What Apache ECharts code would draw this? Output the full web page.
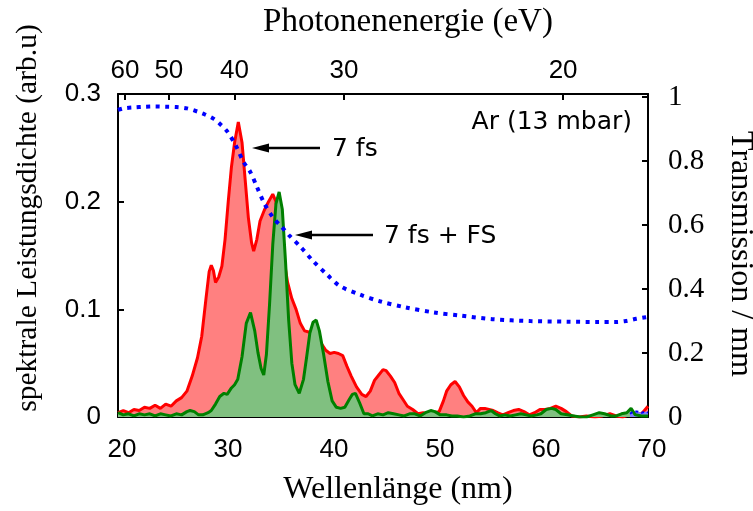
<!DOCTYPE html>
<html><head><meta charset="utf-8">
<script src="https://cdn.jsdelivr.net/npm/echarts@6/dist/echarts.min.js"></script>
<style>html,body{margin:0;padding:0;background:#fff}#c{width:753px;height:511px}</style>
</head><body><div id="c"></div>
<script>
// 7 fs spectrum (red)
const redX=[20.0,20.5,21.0,21.5,22.0,22.5,23.0,23.5,24.0,24.5,25.0,25.5,26.0,26.5,27.0,27.5,27.9,28.3,28.6,28.8,29.0,29.2,29.5,29.8,30.1,30.4,30.7,31.0,31.35,31.7,32.0,32.3,32.6,32.8,33.1,33.4,33.8,34.2,34.6,34.9,35.2,35.6,36.0,36.4,36.8,37.2,37.6,38.0,38.4,38.8,39.2,39.6,40.0,40.4,40.8,41.2,41.6,42.0,42.5,43.0,43.4,43.8,44.2,44.6,45.0,45.3,45.7,46.1,46.5,46.9,47.3,47.8,48.3,48.8,49.3,49.8,50.3,50.7,51.0,51.4,51.8,52.2,52.6,53.0,53.4,53.8,54.2,54.6,55.0,55.4,55.8,56.3,56.8,57.3,57.8,58.3,58.8,59.3,59.8,60.3,60.8,61.3,61.8,62.3,62.8,63.5,64.2,65.0,65.7,66.4,67.0,67.6,68.2,68.8,69.4,70.0];
const redY=[0.004,0.006,0.004,0.007,0.006,0.009,0.008,0.011,0.008,0.012,0.010,0.015,0.018,0.024,0.038,0.055,0.075,0.110,0.135,0.141,0.136,0.125,0.130,0.140,0.165,0.200,0.232,0.255,0.274,0.255,0.220,0.185,0.162,0.154,0.165,0.182,0.192,0.200,0.207,0.200,0.180,0.150,0.125,0.110,0.100,0.087,0.080,0.079,0.075,0.072,0.068,0.062,0.059,0.060,0.059,0.057,0.047,0.038,0.028,0.021,0.019,0.024,0.034,0.039,0.044,0.043,0.038,0.032,0.022,0.016,0.010,0.007,0.003,0.004,0.003,0.004,0.005,0.015,0.024,0.030,0.033,0.028,0.020,0.014,0.010,0.004,0.008,0.008,0.007,0.006,0.004,0.002,0.004,0.006,0.007,0.005,0.002,0.004,0.007,0.007,0.008,0.010,0.008,0.005,0.001,0.000,0.001,0.000,0.001,0.003,0.001,0.000,0.002,0.003,0.003,0.010];
// 7 fs + FS spectrum (green)
const greenX=[20.0,20.5,21.0,21.5,22.0,22.5,23.0,23.5,24.0,24.5,25.0,25.5,26.0,26.5,26.8,27.2,27.6,28.0,28.5,28.8,29.2,29.6,30.0,30.3,30.7,31.0,31.3,31.7,32.1,32.5,32.9,33.2,33.5,33.75,34.0,34.3,34.6,34.9,35.2,35.5,35.8,36.1,36.4,36.7,37.1,37.5,37.8,38.1,38.4,38.7,39.0,39.4,39.8,40.2,40.6,41.0,41.4,41.8,42.1,42.4,42.8,43.2,43.6,44.0,44.5,45.0,45.5,46.0,46.5,47.0,47.5,48.0,48.5,49.0,49.5,49.9,50.4,51.0,51.5,52.0,52.6,53.2,53.7,54.2,54.7,55.2,55.6,56.0,56.5,57.0,57.5,58.0,58.5,59.0,59.5,59.9,60.4,60.9,61.3,61.8,62.4,63.0,63.6,64.2,64.8,65.4,65.9,66.5,67.0,67.5,68.0,68.4,68.8,69.4,70.0];
const greenY=[0.004,0.002,0.003,0.001,0.003,0.002,0.003,0.001,0.003,0.002,0.001,0.003,0.002,0.005,0.006,0.005,0.002,0.002,0.004,0.006,0.012,0.019,0.022,0.021,0.027,0.030,0.035,0.056,0.087,0.097,0.080,0.060,0.045,0.039,0.058,0.105,0.160,0.198,0.209,0.193,0.145,0.090,0.050,0.030,0.022,0.035,0.056,0.078,0.088,0.090,0.080,0.058,0.033,0.015,0.009,0.008,0.009,0.016,0.021,0.022,0.013,0.003,0.003,0.001,0.003,0.002,0.004,0.003,0.002,0.001,0.003,0.003,0.001,0.004,0.006,0.005,0.002,0.002,0.001,0.001,0.000,0.001,0.003,0.003,0.004,0.006,0.003,0.001,0.002,0.001,0.002,0.003,0.002,0.001,0.002,0.003,0.007,0.008,0.007,0.003,0.002,0.001,0.000,0.000,0.002,0.004,0.003,0.001,0.001,0.003,0.004,0.008,0.002,0.001,0.001];
// small blue trace at the far right
const blueX=[68.3,68.6,69.0,69.4,69.8,70.0];
const blueY=[0.003,0.005,0.005,0.004,0.005,0.004];
// Transmission (blue dotted, right axis)
const transX=[20.0,20.5,21.5,22.5,23.5,24.5,25.5,26.5,27.5,28.2,29.0,29.6,30.3,31.1,31.8,32.5,33.1,33.8,34.6,35.4,36.2,37.2,38.4,39.7,40.9,42.8,44.7,47.1,49.8,52.3,55.3,58.9,62.4,65.3,66.9,67.9,68.9,69.8,70.0];
const transY=[0.960,0.965,0.968,0.970,0.971,0.970,0.969,0.965,0.955,0.946,0.933,0.917,0.893,0.850,0.800,0.765,0.720,0.668,0.625,0.596,0.566,0.533,0.488,0.446,0.410,0.383,0.362,0.343,0.327,0.317,0.306,0.300,0.298,0.297,0.297,0.300,0.307,0.312,0.313];
// Axis tick labels
const nmTicks=[20,30,40,50,60,70];
const eVTicks=[60,50,40,30,20];
const leftTicks=[0,0.1,0.2,0.3];
const rightTicks=[0,0.2,0.4,0.6,0.8,1];
const HC=1239.84;

const zip=(a,b)=>a.map((v,i)=>[v,b[i]]);
const SANS='"Liberation Sans", Arial, sans-serif';
const ANN='"DejaVu Sans", sans-serif';
const SERIF='"Liberation Serif", "Times New Roman", serif';
const chart=echarts.init(document.getElementById('c'),null,{renderer:'canvas'});
const eVPos=eVTicks.map(e=>HC/e);
const black={color:'#000',width:2};
chart.setOption({
  animation:false,
  backgroundColor:'#fff',
  grid:{left:118,right:105,top:94,bottom:94,containLabel:false},
  xAxis:[
    {type:'value',position:'bottom',min:nmTicks[0],max:nmTicks[nmTicks.length-1],interval:10,
     axisLine:{show:true,onZero:false,lineStyle:black},
     axisTick:{show:false},
     axisLabel:{fontFamily:SANS,fontSize:26,color:'#000',margin:20,padding:[0,0,0,8]},
     splitLine:{show:false}},
    {type:'value',position:'top',min:20,max:70,
     axisLine:{show:true,onZero:false,lineStyle:black},
     axisTick:{show:true,inside:true,length:6,lineStyle:black,customValues:eVPos},
     axisLabel:{fontFamily:SANS,fontSize:26,color:'#000',margin:10,customValues:eVPos,
       formatter:v=>String(Math.round(HC/v))},
     splitLine:{show:false}}
  ],
  yAxis:[
    {type:'value',position:'left',min:0,max:0.3,
     axisLine:{show:true,onZero:false,lineStyle:black},
     axisTick:{show:true,inside:true,length:6,lineStyle:black,customValues:leftTicks},
     axisLabel:{fontFamily:SANS,fontSize:26,color:'#000',margin:17,customValues:leftTicks,
       formatter:v=>String(+v.toFixed(2))},
     splitLine:{show:false}},
    {type:'value',position:'right',min:0,max:1.01,
     axisLine:{show:true,onZero:false,lineStyle:black},
     axisTick:{show:true,inside:true,length:6,lineStyle:black,customValues:rightTicks},
     axisLabel:{fontFamily:SERIF,fontSize:29,color:'#000',margin:20,customValues:rightTicks,
       formatter:v=>String(+v.toFixed(2))},
     splitLine:{show:false}}
  ],
  series:[
    {name:'7 fs',type:'line',xAxisIndex:0,yAxisIndex:0,data:zip(redX,redY),symbol:'none',
     lineStyle:{color:'#ff0000',width:3},areaStyle:{color:'#ff8080',opacity:1},z:2},
    {name:'7 fs + FS',type:'line',xAxisIndex:0,yAxisIndex:0,data:zip(greenX,greenY),symbol:'none',
     lineStyle:{color:'#008000',width:3},areaStyle:{color:'#80c080',opacity:1},z:3},
    {name:'blue',type:'line',xAxisIndex:0,yAxisIndex:0,data:zip(blueX,blueY),symbol:'none',
     lineStyle:{color:'#0000ff',width:2,type:[3,3]},areaStyle:{color:'#8080ff',opacity:1},z:3},
    {name:'Transmission',type:'line',xAxisIndex:0,yAxisIndex:1,data:zip(transX,transY),symbol:'none',smooth:0.3,
     lineStyle:{color:'#0000ff',width:4,type:[4,5.5],cap:'butt'},z:4}
  ],
  graphic:[
    {type:'text',x:408,y:22,style:{text:'Photonenenergie (eV)',font:'33px '+SERIF,fill:'#000',textAlign:'center',textVerticalAlign:'middle'}},
    {type:'text',x:398,y:490,style:{text:'Wellenlänge (nm)',font:'32px '+SERIF,fill:'#000',textAlign:'center',textVerticalAlign:'middle'}},
    {type:'text',x:28,y:218,rotation:Math.PI/2,style:{text:'spektrale Leistungsdichte (arb.u)',font:'29.5px '+SERIF,fill:'#000',textAlign:'center',textVerticalAlign:'middle'}},
    {type:'text',x:740,y:254,rotation:-Math.PI/2,style:{text:'Transmission / mm',font:'32px '+SERIF,fill:'#000',textAlign:'center',textVerticalAlign:'middle'}},
    {type:'text',x:632,y:122,style:{text:'Ar (13 mbar)',font:'25px '+ANN,fill:'#000',textAlign:'right',textVerticalAlign:'middle'}},
    {type:'text',x:332,y:149,style:{text:'7 fs',font:'25px '+ANN,fill:'#000',textAlign:'left',textVerticalAlign:'middle'}},
    {type:'text',x:384,y:236,style:{text:'7 fs + FS',font:'25px '+ANN,fill:'#000',textAlign:'left',textVerticalAlign:'middle'}},
    {type:'line',shape:{x1:320,y1:148,x2:262,y2:148},style:{stroke:'#000',lineWidth:2.5},z:10},
    {type:'polygon',shape:{points:[[252,148],[269,143.5],[269,152.5]]},style:{fill:'#000'},z:10},
    {type:'line',shape:{x1:373,y1:235,x2:305,y2:235},style:{stroke:'#000',lineWidth:2.5},z:10},
    {type:'polygon',shape:{points:[[295,235],[312,230.5],[312,239.5]]},style:{fill:'#000'},z:10}
  ]
});
</script></body></html>
